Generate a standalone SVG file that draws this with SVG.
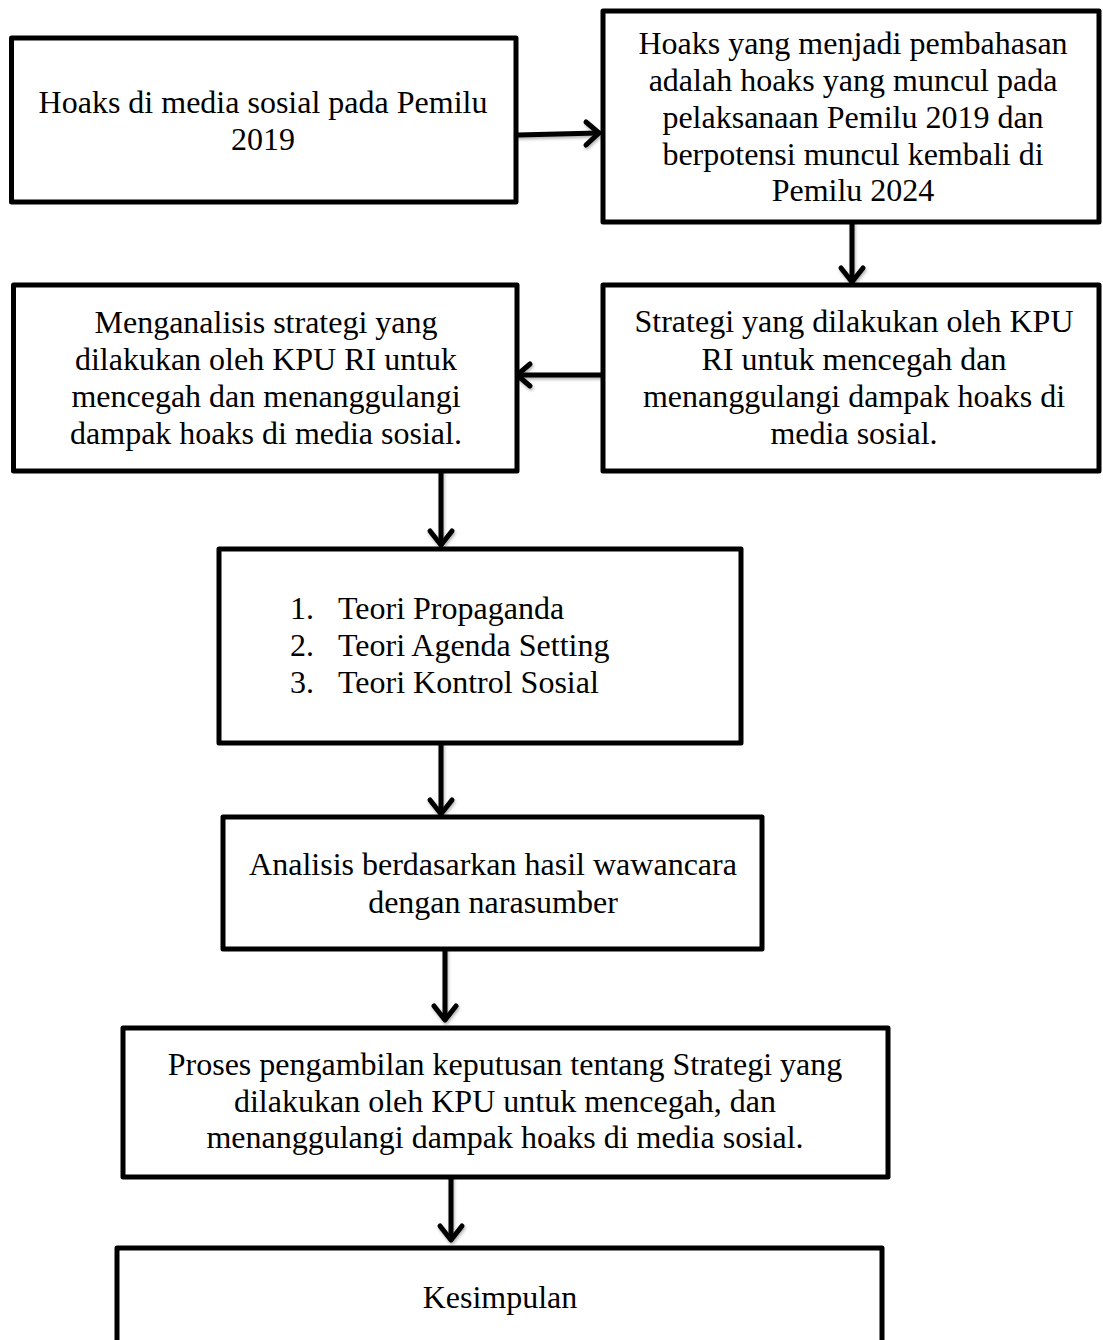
<svg xmlns="http://www.w3.org/2000/svg" width="1103" height="1340" viewBox="0 0 1103 1340">
<defs>
<filter id="sh" x="-20%" y="-20%" width="140%" height="140%">
<feDropShadow dx="1" dy="2" stdDeviation="1.5" flood-color="#000" flood-opacity="0.3"/>
</filter>
</defs>
<style>
.box{fill:#fff;stroke:#000;stroke-width:5;stroke-linejoin:round}
.t{font-family:"Liberation Serif","Times New Roman",serif;font-size:32px;fill:#000;text-anchor:middle}
.l{font-family:"Liberation Serif","Times New Roman",serif;font-size:32px;fill:#000}
.c{fill:none;stroke:#000;stroke-width:5;stroke-linecap:round;stroke-linejoin:round}
</style>
<rect width="1103" height="1340" fill="#fff"/>
<g id="connectors" filter="url(#sh)">
<path class="c" d="M518 135 L598 133"/><path class="c" d="M586 122 L599 133 L586 145"/>
<path class="c" d="M852 222 L852 281"/><path class="c" d="M841 268 L852 282 L863 268"/>
<path class="c" d="M601 375 L518 375"/><path class="c" d="M530 364 L517 375 L530 386"/>
<path class="c" d="M441 471 L441 544"/><path class="c" d="M430 531 L441 545 L452 531"/>
<path class="c" d="M441 743 L441 813"/><path class="c" d="M430 800 L441 814 L452 800"/>
<path class="c" d="M445 949 L445 1019"/><path class="c" d="M434 1006 L445 1020 L456 1006"/>
<path class="c" d="M451 1177 L451 1239"/><path class="c" d="M440 1226 L451 1240 L462 1226"/>
</g>
<g id="n1"><rect class="box" x="11.5" y="38" width="504.5" height="164"/>
<text class="t" x="263" y="113">Hoaks di media sosial pada Pemilu</text>
<text class="t" x="263" y="150">2019</text></g>
<g id="n2"><rect class="box" x="603" y="11" width="496" height="211"/>
<text class="t" x="853" y="54">Hoaks yang menjadi pembahasan</text>
<text class="t" x="853" y="91">adalah hoaks yang muncul pada</text>
<text class="t" x="853" y="128">pelaksanaan Pemilu 2019 dan</text>
<text class="t" x="853" y="165">berpotensi muncul kembali di</text>
<text class="t" x="853" y="201">Pemilu 2024</text></g>
<g id="n3"><rect class="box" x="603" y="285" width="496" height="186"/>
<text class="t" x="854" y="332">Strategi yang dilakukan oleh KPU</text>
<text class="t" x="854" y="370">RI untuk mencegah dan</text>
<text class="t" x="854" y="407">menanggulangi dampak hoaks di</text>
<text class="t" x="854" y="444">media sosial.</text></g>
<g id="n4"><rect class="box" x="13.5" y="285" width="503.5" height="186"/>
<text class="t" x="266" y="333">Menganalisis strategi yang</text>
<text class="t" x="266" y="370">dilakukan oleh KPU RI untuk</text>
<text class="t" x="266" y="407">mencegah dan menanggulangi</text>
<text class="t" x="266" y="444">dampak hoaks di media sosial.</text></g>
<g id="n5"><rect class="box" x="219" y="549" width="522" height="194"/>
<text class="l" x="290" y="619">1.</text><text class="l" x="338" y="619">Teori Propaganda</text>
<text class="l" x="290" y="656">2.</text><text class="l" x="338" y="656">Teori Agenda Setting</text>
<text class="l" x="290" y="693">3.</text><text class="l" x="338" y="693">Teori Kontrol Sosial</text></g>
<g id="n6"><rect class="box" x="223" y="817" width="539" height="132"/>
<text class="t" x="493" y="875">Analisis berdasarkan hasil wawancara</text>
<text class="t" x="493" y="913">dengan narasumber</text></g>
<g id="n7"><rect class="box" x="123" y="1028" width="765" height="149"/>
<text class="t" x="505" y="1075">Proses pengambilan keputusan tentang Strategi yang</text>
<text class="t" x="505" y="1112">dilakukan oleh KPU untuk mencegah, dan</text>
<text class="t" x="505" y="1148">menanggulangi dampak hoaks di media sosial.</text></g>
<g id="n8"><rect class="box" x="117" y="1248" width="765" height="120"/>
<text class="t" x="500" y="1308">Kesimpulan</text></g>
</svg>
